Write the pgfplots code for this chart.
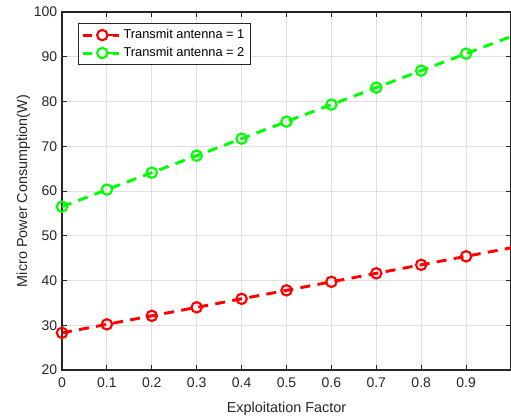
\documentclass[border=0pt]{standalone}
\usepackage{pgfplots}
\pgfplotsset{compat=1.18}
\usepackage{fontspec}
\setmainfont{Liberation Sans}
\definecolor{axgray}{RGB}{38,38,38}
\definecolor{gridgray}{RGB}{223,223,223}
\definecolor{mred}{RGB}{255,0,0}
\definecolor{mgreen}{RGB}{0,255,0}
\pgfplotsset{
  mylegend/.style={legend image code/.code={
    \draw[##1, mark=none, solid, line width=2.2pt] (0cm,0cm) -- (0.22cm,0cm);
    \draw[##1, mark=none, solid, line width=2.2pt] (0.78cm,0cm) -- (0.95cm,0cm);
    \draw[##1, mark=none, solid, line width=1.6pt] (0.5cm,0cm) circle (3.9pt);
    \draw[##1, mark=none, solid, line width=1.6pt] (0.64cm,0cm) -- (0.78cm,0cm);
  }}
}
\begin{document}
\begin{tikzpicture}
\begin{axis}[
  scale only axis,
  width=336.75pt, height=268.5pt,
  xmin=0, xmax=1, ymin=20, ymax=100,
  xtick={0,0.1,0.2,0.3,0.4,0.5,0.6,0.7,0.8,0.9},
  xticklabels={0,0.1,0.2,0.3,0.4,0.5,0.6,0.7,0.8,0.9},
  ytick={20,30,...,100},
  tick align=inside,
  tick pos=both,
  major tick length=4pt,
  grid=major,
  major grid style={gridgray, line width=0.6pt},
  axis line style={axgray, line width=0.8pt},
  every tick/.style={axgray, line width=0.6pt},
  tick label style={font=\fontsize{10.5}{12}\selectfont, text=axgray},
  xticklabel style={yshift=-2pt},
  /pgf/number format/assume math mode=true,
  xlabel={Exploitation Factor},
  ylabel={Micro Power Consumption(W)},
  label style={font=\fontsize{10.8}{13}\selectfont, text=axgray},
  xlabel style={yshift=-4pt},
  ylabel style={yshift=-4pt},
  legend style={at={(0.036,0.969)}, anchor=north west, draw=axgray, line width=0.6pt,
    font=\fontsize{9.6}{11}\selectfont, inner sep=2.5pt, row sep=1pt},
  legend cell align=left,
  clip=true,
]
\addplot[mred, line width=2.2pt, dash pattern=on 7.5pt off 5.5pt,
  mark=o, mark size=3.9pt, mark options={solid, line width=1.6pt},
  mark indices={1,...,10}, mylegend]
  coordinates {(0,28.3) (0.1,30.2) (0.2,32.1) (0.3,34.0) (0.4,35.9) (0.5,37.8) (0.6,39.7) (0.7,41.6) (0.8,43.5) (0.9,45.4) (1.0,47.3)};
\addlegendentry{Transmit antenna = 1}
\addplot[mgreen, line width=2.2pt, dash pattern=on 7.5pt off 5.5pt,
  mark=o, mark size=3.9pt, mark options={solid, line width=1.6pt},
  mark indices={1,...,10}, mylegend]
  coordinates {(0,56.5) (0.1,60.3) (0.2,64.1) (0.3,67.9) (0.4,71.7) (0.5,75.5) (0.6,79.3) (0.7,83.1) (0.8,86.9) (0.9,90.7) (1.0,94.5)};
\addlegendentry{Transmit antenna = 2}
\end{axis}
\pgfresetboundingbox
\path (current axis.south west) ++(-46.5pt,-34.5pt) coordinate (bl);
\path (current axis.north east) ++(0pt,9pt) coordinate (tr);
\useasboundingbox (bl) rectangle (tr);
\end{tikzpicture}
\end{document}
